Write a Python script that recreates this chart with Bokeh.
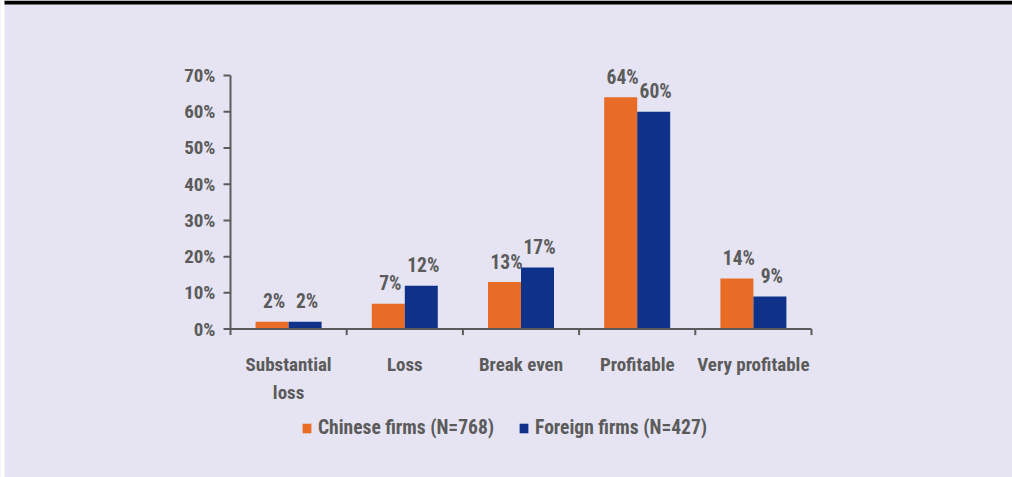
from bokeh.plotting import figure
from bokeh.models import ColumnDataSource, Legend, LegendItem, Range1d
from bokeh.core.properties import value
from bokeh.embed import file_html
from bokeh.resources import INLINE

categories = ["Substantial\nloss", "Loss", "Break even", "Profitable", "Very profitable"]
chinese = [2, 7, 13, 64, 14]
foreign = [2, 12, 17, 60, 9]
series_names = ["Chinese firms (N=768)", "Foreign firms (N=427)"]
y_ticks = [0, 10, 20, 30, 40, 50, 60, 70]
y_tick_labels = ["0%", "10%", "20%", "30%", "40%", "50%", "60%", "70%"]

BG = "#E6E4F2"
ORANGE = "#E86C25"
BLUE = "#0E328A"
GRAY = "#5B5B5B"
FONT = "'Roboto Condensed', 'Noto Sans Condensed', 'DejaVu Sans Condensed', sans-serif"

# ---- layout (pixels); the plot frame covers the whole canvas ----
FIG_W, FIG_H = 1012, 477
CAT_PX = 116.2          # px per category
X0_PX = 230             # page x of the value axis
PX_PER_UNIT = 3.6226    # px per percentage point
Y0_PX = 328.6           # page y of 0%

def dx(px):
    return px / CAT_PX

def dy(px):
    return px / PX_PER_UNIT

n = len(categories)
X_START, X_END = -dx(X0_PX), dx(FIG_W - X0_PX)
Y_START, Y_END = -dy(FIG_H - Y0_PX), dy(Y0_PX)
Y_MAX = y_ticks[-1]

W = 0.284
centers = [i + 0.5 for i in range(n)]

src_c = ColumnDataSource(dict(x=[c - W / 2 for c in centers], top=chinese,
                              lab=[f"{v}%" for v in chinese]))
src_f = ColumnDataSource(dict(x=[c + W / 2 for c in centers], top=foreign,
                              lab=[f"{v}%" for v in foreign]))

p = figure(width=FIG_W, height=FIG_H, output_backend="svg", toolbar_location=None,
           x_range=Range1d(X_START, X_END), y_range=Range1d(Y_START, Y_END),
           x_axis_location=None, y_axis_location=None,
           min_border=0)
p.background_fill_color = BG
p.border_fill_color = BG
p.outline_line_color = None
p.grid.visible = False

# page edge decorations: white strip at left, black band at top
p.quad(left=[X_START], right=[X_START + dx(4)], bottom=[Y_START], top=[Y_END],
       fill_color="#FFFFFF", line_color=None)
p.quad(left=[X_START + dx(4)], right=[X_END], bottom=[Y_END - dy(4)], top=[Y_END],
       fill_color="#000000", line_color=None)

r1 = p.vbar(x="x", top="top", width=W, bottom=0, source=src_c,
            fill_color=ORANGE, line_color=None)
r2 = p.vbar(x="x", top="top", width=W, bottom=0, source=src_f,
            fill_color=BLUE, line_color=None)

# axis lines
p.segment(x0=[0, 0], y0=[0, 0], x1=[0, n], y1=[Y_MAX, 0],
          line_color=GRAY, line_width=2)
# category boundary ticks
p.segment(x0=list(range(n + 1)), y0=[0] * (n + 1), x1=list(range(n + 1)),
          y1=[-dy(6)] * (n + 1), line_color=GRAY, line_width=2)
# value ticks
p.segment(x0=[-dx(7)] * len(y_ticks), y0=y_ticks, x1=[0] * len(y_ticks), y1=y_ticks,
          line_color=GRAY, line_width=2)
# value tick labels
p.text(x=[-dx(15)] * len(y_ticks), y=y_ticks, text=y_tick_labels,
       text_align="right", text_baseline="middle",
       text_font=value(FONT), text_font_style="bold",
       text_font_size="19px", text_color=GRAY)

# data labels
for src in (src_c, src_f):
    p.text(x="x", y="top", text="lab", source=src, text_align="center",
           text_baseline="alphabetic", x_offset=2, y_offset=-20,
           text_font=value(FONT), text_font_style="bold",
           text_font_size="19.5px", text_color=GRAY)

# category labels
p.text(x=centers, y=[0] * n, text=categories, text_align="center",
       text_baseline="top", y_offset=24, text_line_height=1.2,
       text_font=value(FONT), text_font_style="bold",
       text_font_size="19px", text_color=GRAY)

legend = Legend(items=[LegendItem(label=series_names[0], renderers=[r1]),
                       LegendItem(label=series_names[1], renderers=[r2])],
                orientation="horizontal", location=(301, 38),
                glyph_width=11, glyph_height=12, label_height=12,
                label_standoff=6, spacing=24, padding=0, margin=0,
                border_line_color=None, background_fill_alpha=0,
                label_text_font=FONT, label_text_font_style="bold",
                label_text_font_size="19.5px", label_text_color=GRAY)
p.add_layout(legend, "center")

open("out.html", "w").write(file_html(p, INLINE))
